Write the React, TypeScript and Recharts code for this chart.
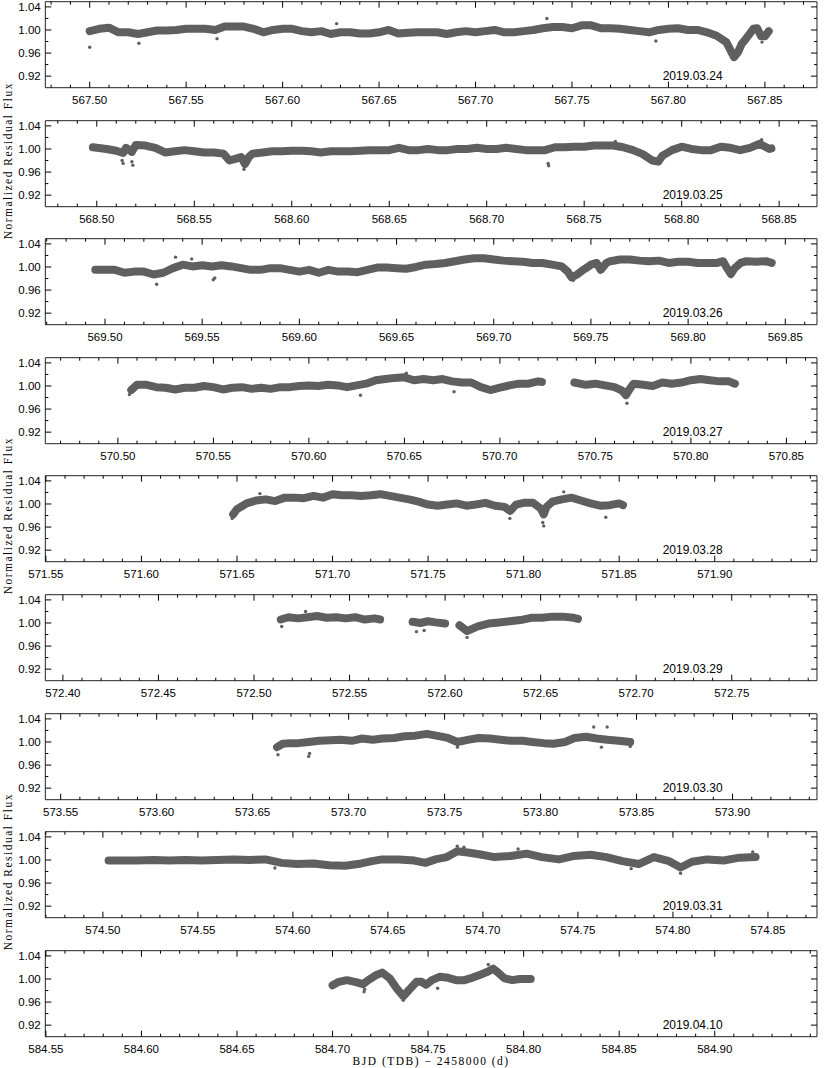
import React from 'react';
import { ComposedChart, Line, Scatter, XAxis, YAxis, Label } from 'recharts';

// ---------- labels ----------
const dates = ['2019.03.24', '2019.03.25', '2019.03.26', '2019.03.27', '2019.03.28', '2019.03.29', '2019.03.30', '2019.03.31', '2019.04.10'];

const xTickLabels = [
  ['567.50', '567.55', '567.60', '567.65', '567.70', '567.75', '567.80', '567.85'],
  ['568.50', '568.55', '568.60', '568.65', '568.70', '568.75', '568.80', '568.85'],
  ['569.50', '569.55', '569.60', '569.65', '569.70', '569.75', '569.80', '569.85'],
  ['570.50', '570.55', '570.60', '570.65', '570.70', '570.75', '570.80', '570.85'],
  ['571.55', '571.60', '571.65', '571.70', '571.75', '571.80', '571.85', '571.90'],
  ['572.40', '572.45', '572.50', '572.55', '572.60', '572.65', '572.70', '572.75'],
  ['573.55', '573.60', '573.65', '573.70', '573.75', '573.80', '573.85', '573.90'],
  ['574.50', '574.55', '574.60', '574.65', '574.70', '574.75', '574.80', '574.85'],
  ['584.55', '584.60', '584.65', '584.70', '584.75', '584.80', '584.85', '584.90'],
];

const xDomains = [
  [567.477, 567.877],
  [568.4736, 568.8694],
  [569.4693, 569.8663],
  [570.462, 570.866],
  [571.5497, 571.9535],
  [572.3908, 572.7946],
  [573.542, 573.944],
  [574.4697, 574.8758],
  [584.5497, 584.9535],
];

const yTickLabels = ['0.92', '0.96', '1.00', '1.04'];
const yMinorTicks = [0.94, 0.98, 1.02];
const yDomain = [0.9, 1.049];

const yTitle = 'Normalized Residual Flux';
const xTitle = 'BJD (TDB) \u2212 2458000 (d)';

// ---------- light-curve readings [BJD-2458000, flux] ----------
const night1 = [[567.500,0.998],[567.505,1.002],[567.510,1.004],[567.515,0.996],[567.520,0.996],[567.525,0.993],[567.530,0.996],[567.535,0.999],[567.540,0.999],[567.545,1.000],[567.550,1.002],[567.555,1.002],[567.560,1.002],[567.565,1.000],[567.570,1.006],[567.575,1.006],[567.580,1.006],[567.585,1.002],[567.590,0.996],[567.595,1.000],[567.600,1.002],[567.605,1.002],[567.610,0.998],[567.615,0.996],[567.620,0.998],[567.625,0.993],[567.630,0.996],[567.635,0.996],[567.640,0.994],[567.645,0.994],[567.650,0.996],[567.655,1.000],[567.660,0.994],[567.665,0.995],[567.670,0.996],[567.675,0.996],[567.680,0.996],[567.685,0.993],[567.690,0.996],[567.695,0.998],[567.700,0.996],[567.705,0.998],[567.710,1.000],[567.715,0.996],[567.720,0.996],[567.725,0.998],[567.730,1.000],[567.735,1.003],[567.740,1.005],[567.745,1.005],[567.750,1.003],[567.755,1.008],[567.760,1.008],[567.765,1.003],[567.770,1.003],[567.775,1.002],[567.780,1.000],[567.785,0.998],[567.790,0.996],[567.795,1.000],[567.800,1.002],[567.805,1.003],[567.810,1.000],[567.815,1.000],[567.820,0.996],[567.825,0.990],[567.830,0.979],[567.832,0.966],[567.834,0.953],[567.836,0.961],[567.838,0.976],[567.840,0.984],[567.842,0.993],[567.844,1.002],[567.846,1.003],[567.848,0.989],[567.850,0.989],[567.852,0.998]];
const night1Out = [[567.500,0.970],[567.5255,0.977],[567.566,0.985],[567.737,1.020],[567.7935,0.981],[567.8485,0.979],[567.628,1.011]];

const night2 = [[568.498,1.003],[568.500,1.002],[568.505,1.000],[568.510,0.997],[568.5135,0.993],[568.515,1.002],[568.518,0.995],[568.520,1.007],[568.525,1.006],[568.530,1.002],[568.535,0.994],[568.540,0.996],[568.545,0.998],[568.550,0.996],[568.555,0.994],[568.560,0.994],[568.565,0.992],[568.568,0.980],[568.571,0.983],[568.574,0.986],[568.576,0.974],[568.578,0.986],[568.580,0.992],[568.585,0.994],[568.590,0.996],[568.595,0.996],[568.600,0.997],[568.605,0.997],[568.610,0.996],[568.615,0.994],[568.620,0.996],[568.625,0.996],[568.630,0.996],[568.635,0.997],[568.640,0.998],[568.645,0.998],[568.650,0.998],[568.655,1.002],[568.660,0.998],[568.665,0.998],[568.670,1.000],[568.675,0.998],[568.680,0.998],[568.685,1.000],[568.690,1.000],[568.695,1.002],[568.700,1.000],[568.705,1.000],[568.710,1.002],[568.715,1.000],[568.720,0.998],[568.725,0.998],[568.730,0.998],[568.735,1.003],[568.740,1.003],[568.745,1.004],[568.750,1.004],[568.755,1.006],[568.760,1.006],[568.765,1.006],[568.770,1.003],[568.775,0.998],[568.780,0.991],[568.785,0.980],[568.788,0.978],[568.790,0.988],[568.795,0.998],[568.800,1.004],[568.805,1.000],[568.810,0.998],[568.815,0.998],[568.820,1.004],[568.825,1.002],[568.830,0.998],[568.835,1.002],[568.840,1.009],[568.845,1.000],[568.846,1.001]];
const night2Out = [[568.513,0.980],[568.5135,0.975],[568.518,0.978],[568.5185,0.972],[568.5755,0.965],[568.7315,0.975],[568.7318,0.971],[568.841,1.016],[568.766,1.013]];

const night3 = [[569.495,0.995],[569.500,0.995],[569.505,0.995],[569.510,0.990],[569.515,0.992],[569.520,0.992],[569.525,0.987],[569.530,0.990],[569.535,0.998],[569.540,1.004],[569.545,1.001],[569.550,1.003],[569.555,1.001],[569.560,1.003],[569.565,1.001],[569.570,0.998],[569.575,0.995],[569.580,0.995],[569.585,0.998],[569.590,0.998],[569.595,0.995],[569.600,0.992],[569.605,0.995],[569.610,0.990],[569.615,0.995],[569.620,0.992],[569.625,0.992],[569.630,0.991],[569.635,0.995],[569.640,0.999],[569.645,0.999],[569.650,0.998],[569.655,0.997],[569.660,1.000],[569.665,1.004],[569.670,1.005],[569.675,1.007],[569.680,1.010],[569.685,1.013],[569.690,1.015],[569.695,1.015],[569.700,1.013],[569.705,1.011],[569.710,1.010],[569.715,1.009],[569.720,1.007],[569.725,1.007],[569.730,1.004],[569.735,1.001],[569.738,0.992],[569.740,0.982],[569.743,0.987],[569.746,0.995],[569.748,0.999],[569.750,1.004],[569.753,1.007],[569.755,0.995],[569.758,1.007],[569.760,1.010],[569.765,1.013],[569.770,1.013],[569.775,1.011],[569.780,1.010],[569.785,1.011],[569.790,1.007],[569.795,1.009],[569.800,1.009],[569.805,1.007],[569.810,1.007],[569.815,1.007],[569.818,1.010],[569.820,0.998],[569.822,0.988],[569.824,0.998],[569.827,1.007],[569.830,1.010],[569.835,1.009],[569.840,1.010],[569.843,1.007]];
const night3Out = [[569.5266,0.970],[569.5363,1.017],[569.5446,1.014],[569.5557,0.978],[569.5565,0.981],[569.741,0.977],[569.822,0.983]];

const night4 = [[570.507,0.993],[570.510,1.002],[570.515,1.002],[570.520,0.998],[570.525,0.997],[570.530,0.994],[570.535,0.997],[570.540,0.997],[570.545,1.000],[570.550,0.998],[570.555,0.994],[570.560,0.997],[570.565,0.998],[570.570,0.995],[570.575,0.997],[570.580,0.995],[570.585,0.998],[570.590,0.998],[570.595,1.000],[570.600,1.001],[570.605,1.000],[570.610,1.002],[570.615,1.001],[570.620,0.998],[570.625,1.001],[570.630,1.004],[570.635,1.010],[570.640,1.012],[570.645,1.014],[570.650,1.015],[570.655,1.010],[570.660,1.012],[570.665,1.010],[570.670,1.012],[570.675,1.008],[570.680,1.006],[570.685,1.006],[570.690,0.998],[570.695,0.993],[570.700,0.997],[570.705,1.001],[570.710,1.004],[570.715,1.004],[570.720,1.008],[570.722,1.007],[570.730,null],[570.739,1.006],[570.745,1.002],[570.750,1.004],[570.755,1.001],[570.760,0.998],[570.764,0.992],[570.766,0.984],[570.768,0.995],[570.770,1.004],[570.775,1.002],[570.780,1.000],[570.785,1.006],[570.790,1.004],[570.795,1.006],[570.800,1.010],[570.805,1.012],[570.810,1.010],[570.815,1.008],[570.820,1.008],[570.823,1.004]];
const night4Out = [[570.627,0.984],[570.7665,0.970],[570.676,0.990],[570.506,0.985],[570.651,1.022]];

const night5 = [[571.648,0.982],[571.650,0.991],[571.653,0.997],[571.655,1.001],[571.660,1.006],[571.665,1.008],[571.670,1.005],[571.675,1.011],[571.680,1.011],[571.685,1.010],[571.690,1.014],[571.695,1.011],[571.700,1.017],[571.705,1.015],[571.710,1.015],[571.715,1.014],[571.720,1.015],[571.725,1.017],[571.730,1.014],[571.735,1.011],[571.740,1.008],[571.745,1.004],[571.750,0.999],[571.755,0.997],[571.760,0.999],[571.765,1.001],[571.770,0.997],[571.775,0.999],[571.780,1.002],[571.785,0.997],[571.790,0.995],[571.793,0.988],[571.796,0.999],[571.800,1.002],[571.805,1.002],[571.809,0.992],[571.8105,0.982],[571.812,0.995],[571.815,1.004],[571.820,1.008],[571.825,1.011],[571.830,1.006],[571.835,1.001],[571.840,0.997],[571.845,0.998],[571.850,1.001],[571.852,0.998]];
const night5Out = [[571.6475,0.975],[571.7928,0.975],[571.8105,0.962],[571.810,0.968],[571.821,1.021],[571.662,1.018],[571.843,0.977]];

const night6 = [[572.514,1.006],[572.518,1.010],[572.523,1.008],[572.528,1.010],[572.533,1.012],[572.538,1.009],[572.543,1.010],[572.548,1.008],[572.553,1.010],[572.558,1.006],[572.563,1.008],[572.566,1.006],[572.575,null],[572.583,1.002],[572.587,1.000],[572.591,1.003],[572.595,1.001],[572.600,0.999],[572.604,null],[572.6075,0.996],[572.6115,0.986],[572.6171,0.994],[572.6227,0.999],[572.6283,1.001],[572.6339,1.003],[572.6394,1.005],[572.645,1.009],[572.6506,1.009],[572.6562,1.011],[572.6617,1.011],[572.6673,1.009],[572.6695,1.007]];
const night6Out = [[572.6115,0.975],[572.5145,0.994],[572.585,0.985],[572.589,0.987],[572.527,1.020]];

const night7 = [[573.6627,0.991],[573.6657,0.997],[573.6697,0.998],[573.6737,0.998],[573.6792,1.000],[573.6847,1.002],[573.6907,1.003],[573.6957,1.004],[573.7017,1.002],[573.7067,1.006],[573.7127,1.004],[573.7177,1.006],[573.7237,1.007],[573.7292,1.010],[573.7347,1.011],[573.7407,1.014],[573.7457,1.011],[573.7517,1.007],[573.7567,1.000],[573.7627,1.004],[573.7677,1.007],[573.7737,1.006],[573.7792,1.004],[573.7847,1.002],[573.7907,1.002],[573.7957,1.000],[573.8017,0.998],[573.8067,0.997],[573.8127,1.000],[573.8177,1.007],[573.8237,1.009],[573.8292,1.006],[573.8347,1.004],[573.8407,1.002],[573.8467,1.000]];
const night7Out = [[573.6632,0.978],[573.6792,0.975],[573.6797,0.980],[573.8277,1.026],[573.8347,1.026],[573.7567,0.991],[573.8317,0.991],[573.8467,0.992]];

const night8 = [[574.503,0.999],[574.510,0.999],[574.518,0.999],[574.527,1.000],[574.535,0.999],[574.5435,1.000],[574.552,0.999],[574.560,1.000],[574.569,1.001],[574.577,1.000],[574.5855,1.001],[574.594,0.995],[574.602,0.993],[574.611,0.994],[574.619,0.991],[574.6276,0.990],[574.636,0.994],[574.6416,0.998],[574.647,1.001],[574.6556,1.001],[574.664,0.999],[574.6697,0.995],[574.675,1.001],[574.681,1.005],[574.6865,1.015],[574.692,1.013],[574.698,1.010],[574.706,1.005],[574.7145,1.007],[574.723,1.011],[574.731,1.005],[574.740,1.001],[574.748,1.007],[574.7566,1.009],[574.765,1.005],[574.7734,0.998],[574.782,0.993],[574.790,1.005],[574.798,0.998],[574.804,0.987],[574.810,0.997],[574.818,1.001],[574.8267,0.999],[574.835,1.004],[574.8435,1.005]];
const night8Out = [[574.804,0.977],[574.6865,1.024],[574.690,1.022],[574.7185,1.019],[574.5905,0.986],[574.778,0.985],[574.842,1.014]];

const night9 = [[584.700,0.989],[584.7033,0.995],[584.7075,0.998],[584.7117,0.995],[584.716,0.991],[584.7187,0.998],[584.723,1.007],[584.726,1.011],[584.730,1.001],[584.7335,0.984],[584.737,0.970],[584.740,0.981],[584.744,0.995],[584.7466,0.995],[584.749,0.990],[584.752,0.998],[584.7563,1.004],[584.7605,1.002],[584.7647,0.998],[584.769,0.998],[584.773,1.002],[584.777,1.007],[584.7814,1.013],[584.784,1.018],[584.787,1.010],[584.790,1.001],[584.794,0.998],[584.798,1.000],[584.8037,1.000]];
const night9Out = [[584.737,0.963],[584.7165,0.978],[584.7168,0.982],[584.755,0.984],[584.7815,1.025]];

const nights = [night1, night2, night3, night4, night5, night6, night7, night8, night9];
const outliers = [night1Out, night2Out, night3Out, night4Out, night5Out, night6Out, night7Out, night8Out, night9Out];

// ---------- layout ----------
const W = 830;
const STEP = 118.6;
const PLOT_TOP = 1.7;
const PLOT_H = 86;
const PLOT_LEFT = 45.3;
const PLOT_RIGHT = 817;
const AX = 1; // axis box thickness (must be > 0 for Recharts to draw the axis)
const INK = '#000';
const FRAME = '#222';
const DOTS = '#5f5f5f';
const SANS = '"Liberation Sans", Arial, sans-serif';
const SERIF = '"Liberation Serif", "DejaVu Serif", serif';

const toRows = (arr: any[]) => arr.map(([x, y]) => ({ x, y }));

const hundredths = (lo: number, hi: number) => {
  const out: number[] = [];
  for (let k = Math.ceil(lo * 100 - 1e-6); k <= Math.floor(hi * 100 + 1e-6); k++) out.push(k / 100);
  return out;
};

function Panel({ i }: { i: number }) {
  const [lo, hi] = xDomains[i];
  const majors = xTickLabels[i].map((s) => Math.round(parseFloat(s) * 100));
  const isMajor = (v: number) => majors.includes(Math.round(v * 100));
  const xt = hundredths(lo, hi);
  const yMaj = yTickLabels.map(parseFloat);
  const yt = [...yMaj, ...yMinorTicks].sort((a, b) => a - b);
  const isYMajor = (v: number) => yMaj.some((m) => Math.abs(m - v) < 1e-6);

  const plotBottom = PLOT_TOP + PLOT_H;

  const bottomTick = (p: any) => {
    const v = p.payload.value;
    const mj = isMajor(v);
    const y0 = plotBottom;
    return (
      <g>
        <line x1={p.x} x2={p.x} y1={y0} y2={y0 - (mj ? 6 : 3)} stroke={INK} strokeWidth={1} />
        {mj && (
          <text x={p.x} y={y0 + 16.3} textAnchor="middle" fontSize={11.5} fontFamily={SANS} fill={INK}>
            {v.toFixed(2)}
          </text>
        )}
      </g>
    );
  };
  const topTick = (p: any) => {
    const v = p.payload.value;
    const mj = isMajor(v);
    const y0 = PLOT_TOP;
    return <line x1={p.x} x2={p.x} y1={y0} y2={y0 + (mj ? 6 : 3)} stroke={INK} strokeWidth={1} />;
  };
  const leftTick = (p: any) => {
    const v = p.payload.value;
    const mj = isYMajor(v);
    const x0 = PLOT_LEFT;
    return (
      <g>
        <line x1={x0} x2={x0 + (mj ? 6 : 3)} y1={p.y} y2={p.y} stroke={INK} strokeWidth={1} />
        {mj && (
          <text x={x0 - 4.6} y={p.y + 4.1} textAnchor="end" fontSize={11.5} fontFamily={SANS} fill={INK}>
            {v.toFixed(2)}
          </text>
        )}
      </g>
    );
  };
  const rightTick = (p: any) => {
    const v = p.payload.value;
    const mj = isYMajor(v);
    const x0 = PLOT_RIGHT;
    return <line x1={x0} x2={x0 - (mj ? 6 : 3)} y1={p.y} y2={p.y} stroke={INK} strokeWidth={1} />;
  };

  const dateLabel = () => (
    <text x={PLOT_LEFT + 0.8 * (PLOT_RIGHT - PLOT_LEFT)} y={plotBottom - 7.7} fontSize={12} fontFamily={SANS} fill={INK}>
      {dates[i]}
    </text>
  );
  const xTitleLabel = () => (
    <text x={(PLOT_LEFT + PLOT_RIGHT) / 2} y={plotBottom + 28} textAnchor="middle" fontSize={11.5} letterSpacing={1.5} fontFamily={SERIF} fill={INK}>
      {xTitle}
    </text>
  );
  const yTitleLabel = () => {
    const cx = 11.5;
    const cy = PLOT_TOP + PLOT_H / 2 - 3;
    return (
      <text x={cx} y={cy} transform={`rotate(-90 ${cx} ${cy})`} textAnchor="middle" fontSize={11.5} letterSpacing={1.5} fontFamily={SERIF} fill={INK}>
        {yTitle}
      </text>
    );
  };

  const showY = i === 1 || i === 4 || i === 7;
  const showX = i === 8;

  return (
    <div style={{ position: 'absolute', left: 0, top: i * STEP }}>
      <ComposedChart
        width={W}
        height={STEP}
        margin={{ top: PLOT_TOP - AX, right: W - PLOT_RIGHT - AX, bottom: STEP - PLOT_TOP - PLOT_H - AX, left: PLOT_LEFT - AX }}
      >
        <XAxis
          xAxisId="b"
          dataKey="x"
          type="number"
          domain={[lo, hi]}
          allowDataOverflow
          ticks={xt}
          interval={0}
          height={AX}
          tickSize={0}
          tickMargin={0}
          tickLine={false}
          tick={bottomTick}
          axisLine={{ stroke: FRAME, strokeWidth: 1 }}
        >
          <Label content={dateLabel} />
          {showX ? <Label content={xTitleLabel} /> : null}
        </XAxis>
        <XAxis
          xAxisId="t"
          orientation="top"
          dataKey="x"
          type="number"
          domain={[lo, hi]}
          allowDataOverflow
          ticks={xt}
          interval={0}
          height={AX}
          tickSize={0}
          tickMargin={0}
          tickLine={false}
          tick={topTick}
          axisLine={{ stroke: FRAME, strokeWidth: 1 }}
        />
        <YAxis
          yAxisId="l"
          dataKey="y"
          type="number"
          domain={yDomain}
          allowDataOverflow
          ticks={yt}
          interval={0}
          width={AX}
          tickSize={0}
          tickMargin={0}
          tickLine={false}
          tick={leftTick}
          axisLine={{ stroke: FRAME, strokeWidth: 1 }}
        >
          {showY ? <Label content={yTitleLabel} /> : null}
        </YAxis>
        <YAxis
          yAxisId="r"
          orientation="right"
          dataKey="y"
          type="number"
          domain={yDomain}
          allowDataOverflow
          ticks={yt}
          interval={0}
          width={AX}
          tickSize={0}
          tickMargin={0}
          tickLine={false}
          tick={rightTick}
          axisLine={{ stroke: FRAME, strokeWidth: 1 }}
        />
        <Line
          xAxisId="b"
          yAxisId="l"
          data={toRows(nights[i])}
          dataKey="y"
          type="linear"
          stroke={DOTS}
          strokeWidth={8}
          strokeLinejoin="round"
          strokeLinecap="round"
          dot={false}
          activeDot={false}
          connectNulls={false}
          isAnimationActive={false}
        />
        <Scatter
          xAxisId="b"
          yAxisId="l"
          data={toRows(outliers[i])}
          dataKey="y"
          fill={DOTS}
          shape={(p: any) => <circle cx={p.cx} cy={p.cy} r={1.7} fill={DOTS} />}
          isAnimationActive={false}
        />
      </ComposedChart>
    </div>
  );
}

export default function App() {
  return (
    <div style={{ position: 'absolute', left: 0, top: 0, width: W, height: 1068, background: '#fff' }}>
      <style>{`.recharts-surface{overflow:visible}`}</style>
      {dates.map((_, i) => (
        <Panel key={i} i={i} />
      ))}
    </div>
  );
}
